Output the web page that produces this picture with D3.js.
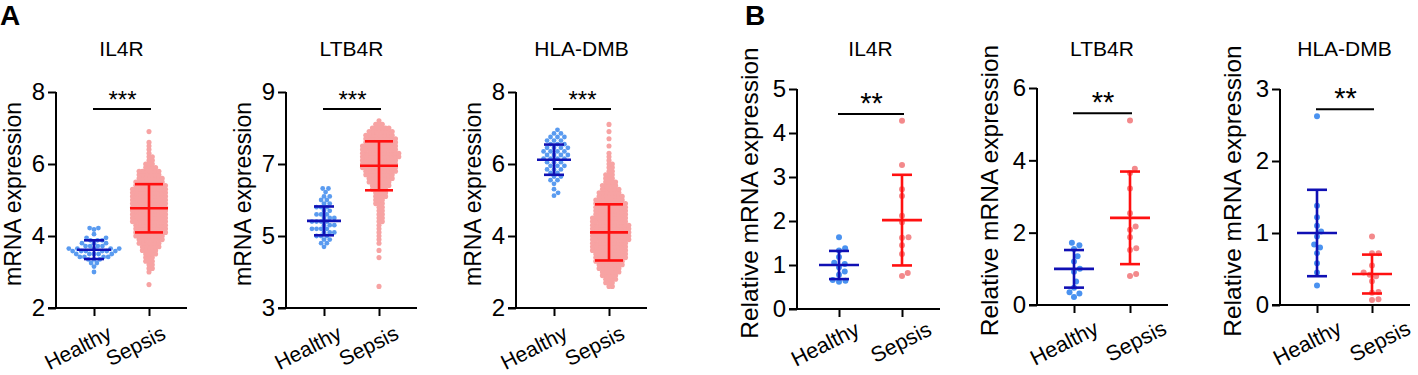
<!DOCTYPE html>
<html><head><meta charset="utf-8">
<script src="https://cdn.jsdelivr.net/npm/d3@7"></script>
<style>
body{margin:0;background:#fff}
text{font-family:"Liberation Sans",Arial,sans-serif;fill:#000}
</style>
</head><body>
<svg id="chart" width="1418" height="375"></svg>
<script>
// ---------------- DATA ----------------
const groups = ["Healthy", "Sepsis"];
const genes = ["IL4R", "LTB4R", "HLA-DMB"];
const panelLetters = ["A", "B"];
const yLabelA = "mRNA expression";
const yLabelB = "Relative mRNA expression";

// Panel A y-axis domains and ticks
const aDomains = [[2, 8], [3, 9], [2, 8]];
const aTicks = [[2, 4, 6, 8], [3, 5, 7, 9], [2, 4, 6, 8]];
// Panel B y-axis domains and ticks
const bDomains = [[0, 5], [0, 6], [0, 3]];
const bTicks = [[0, 1, 2, 3, 4, 5], [0, 2, 4, 6], [0, 1, 2, 3]];

// Panel A swarm rows: expression level and number of dots at that level
const aIL4RHealthyVals   = [4.22,4.18,4.05,3.95,3.88,3.80,3.72,3.65,3.58,3.50,3.42,3.35,3.25,3.15,3.00];
const aIL4RHealthyCounts = [2,1,1,2,3,3,4,5,6,5,4,3,2,1,1];
const aIL4RSepsisVals    = [2.65,3.0,3.1,3.2,3.3,3.4,3.5,3.6,3.7,3.8,3.9,4.0,4.1,4.2,4.3,4.4,4.5,4.6,4.7,4.8,4.9,5.0,5.1,5.2,5.3,5.4,5.5,5.6,5.7,5.8,5.9,6.0,6.1,6.2,6.3,6.4,6.5,6.6,6.9];
const aIL4RSepsisCounts  = [1,1,2,2,3,3,4,5,6,7,8,9,10,10,10,11,11,11,11,11,11,11,11,11,11,10,9,8,7,7,4,3,2,2,1,1,1,1,1];

const aLTB4RHealthyVals   = [6.32,6.22,6.10,6.00,5.90,5.80,5.70,5.60,5.50,5.40,5.30,5.20,5.10,5.00,4.90,4.80,4.70];
const aLTB4RHealthyCounts = [2,1,2,2,2,3,2,3,3,4,3,4,3,3,2,2,1];
const aLTB4RSepsisVals    = [3.6,4.4,4.6,4.8,4.9,5.0,5.1,5.2,5.3,5.4,5.5,5.6,5.7,5.8,5.9,6.0,6.1,6.2,6.3,6.4,6.5,6.6,6.7,6.8,6.9,7.0,7.1,7.2,7.3,7.4,7.5,7.6,7.7,7.8,7.9,8.0,8.1,8.2];
const aLTB4RSepsisCounts  = [1,1,1,1,1,1,1,1,1,2,2,2,2,2,3,3,4,4,5,6,7,8,9,10,11,11,11,12,12,11,11,10,10,9,8,6,3,1];

const aHLAHealthyVals   = [6.95,6.85,6.75,6.65,6.55,6.45,6.35,6.25,6.15,6.05,5.95,5.85,5.75,5.65,5.55,5.45,5.30,5.20,5.12];
const aHLAHealthyCounts = [1,2,3,3,3,4,4,4,4,3,3,3,2,2,2,1,1,1,1];
const aHLASepsisVals    = [2.6,2.7,2.8,2.9,3.0,3.1,3.2,3.3,3.4,3.5,3.6,3.7,3.8,3.9,4.0,4.1,4.2,4.3,4.4,4.5,4.6,4.7,4.8,4.9,5.0,5.1,5.2,5.3,5.4,5.5,5.6,5.7,5.8,5.9,6.0,6.1,6.2,6.3,6.5,6.7,6.9,7.1];
const aHLASepsisCounts  = [2,3,4,5,6,7,8,9,10,10,11,11,11,12,12,12,12,12,11,11,10,10,10,10,9,8,7,6,5,4,3,3,2,2,2,1,1,1,1,1,1,1];

// Panel A mean and SD
const aMeans = [[3.62, 4.77], [5.42, 6.95], [6.12, 4.10]];
const aSDs   = [[0.26, 0.67], [0.40, 0.68], [0.42, 0.78]];
const aSigLevels = [7.53, 8.53, 7.53];
const aStars = "***";

// Panel B individual samples
const bIL4RHealthy  = [1.63,1.38,1.33,1.18,1.05,1.02,0.95,0.85,0.78,0.66,0.64,0.62];
const bIL4RSepsis   = [4.28,3.27,2.72,2.57,2.12,1.97,1.63,1.62,1.45,1.25,0.82,0.75];
const bLTB4RHealthy = [1.72,1.65,1.55,1.35,1.20,1.00,0.92,0.65,0.48,0.35,0.32,0.22];
const bLTB4RSepsis  = [5.10,3.77,3.65,3.22,2.54,2.17,2.08,1.87,1.57,1.52,0.86,0.80];
const bHLAHealthy   = [2.62,1.38,1.22,1.10,1.02,0.95,0.84,0.80,0.72,0.58,0.45,0.27];
const bHLASepsis    = [0.95,0.72,0.72,0.55,0.45,0.42,0.40,0.33,0.18,0.17,0.08,0.07];

const bMeans = [[1.00, 2.02], [1.00, 2.41], [1.00, 0.43]];
const bSDs   = [[0.32, 1.03], [0.52, 1.28], [0.60, 0.27]];
const bSigLevels = [4.43, 5.30, 2.72];
const bStars = "**";

// ---------------- LAYOUT / STYLE ----------------
const COLORS = {
  aHealthyDot: "#5a9bf0", aSepsisDot: "#f7a3a3",
  bHealthyDot: "#4a92f0", bSepsisDot: "#f3898b",
  healthyBar: "#1010b4", sepsisBar: "#ff1010"
};
const FONT = "'Liberation Sans', Arial, sans-serif";
const LABEL_ANGLE = -27;

const layoutA = genes.map((g, i) => ({
  axisX: [56, 286, 516][i], top: 92, bottom: 308,
  hx: 38, sx: 93, xEnd: 131,
  meanW: [34, 38], capW: [20, 28], r: [2.4, 2.55], minDist: [4.6, 3.3],
  yLabelDx: -35, labelDx: [[19, 18], [19, 21], [15, 17]][i], labelDy: 30, titleY: 56,
  tickFont: 24, labelFont: 21, yLabelFont: 23, starFont: 24, starDy: 1
}));
layoutA[2].minDist = [5.0, 3.3];
const layoutB = genes.map((g, i) => ({
  axisX: [797, 1037, 1280][i], top: [89, 88, 89][i], bottom: [309, 305, 305][i],
  hx: [42, 37, 37][i], sx: [105, 93, 92][i], xEnd: [143, 131, 130][i],
  meanW: [40, 40], capW: [20, 20], r: [3, 3], minDist: [6.5, 6.5],
  yLabelDx: -39, labelDx: [[22, 31], [26, 38], [26, 40]][i], labelDy: [25, 28, 28][i], titleY: 56,
  tickFont: 24, labelFont: 21.5, yLabelFont: 24.5, starFont: 29, starDy: 1
}));

const svg = d3.select("#chart");

function expandRows(vals, counts) {
  const out = [];
  vals.forEach((v, i) => { for (let k = 0; k < counts[i]; k++) out.push(v); });
  return out;
}

// deterministic beeswarm offsets (pixels)
function swarm(ys, minDist) {
  const idx = ys.map((y, i) => i).sort((a, b) => ys[b] - ys[a] || a - b);
  const placed = [], out = new Array(ys.length);
  const md2 = minDist * minDist;
  for (const i of idx) {
    const y = ys[i];
    const near = placed.filter(p => Math.abs(p.y - y) < minDist);
    const cands = [0];
    near.forEach(p => {
      const dx = Math.sqrt(md2 - (p.y - y) ** 2);
      cands.push(p.x + dx, p.x - dx);
    });
    cands.sort((a, b) => Math.abs(a) - Math.abs(b) || b - a);
    let best = 0;
    for (const c of cands) {
      if (near.every(p => (p.x - c) ** 2 + (p.y - y) ** 2 >= md2 - 1e-6)) { best = c; break; }
    }
    placed.push({ x: best, y });
    out[i] = best;
  }
  return out;
}

function drawPlot(L, domain, ticks, title, yLabel, groupData, means, sds, sigLevel, stars, dotColors) {
  const g = svg.append("g");
  const y = d3.scaleLinear().domain(domain).range([L.bottom, L.top]);
  const x = d3.scaleOrdinal().domain(groups).range([L.axisX + L.hx, L.axisX + L.sx]);

  // dots
  groupData.forEach((vals, gi) => {
    const ys = vals.map(v => y(v));
    const offs = swarm(ys, L.minDist[gi]);
    g.append("g").selectAll("circle").data(vals).join("circle")
      .attr("cx", (d, i) => x(groups[gi]) + offs[i])
      .attr("cy", d => y(d))
      .attr("r", L.r[gi])
      .attr("fill", dotColors[gi]);
  });

  // error bars
  groups.forEach((grp, gi) => {
    const cx = x(grp), m = means[gi], s = sds[gi];
    const col = gi === 0 ? COLORS.healthyBar : COLORS.sepsisBar;
    const eb = g.append("g").attr("stroke", col).attr("stroke-width", 2.6).attr("fill", "none");
    eb.append("line").attr("x1", cx).attr("x2", cx).attr("y1", y(m - s)).attr("y2", y(m + s));
    eb.append("line").attr("x1", cx - L.capW[gi] / 2).attr("x2", cx + L.capW[gi] / 2).attr("y1", y(m + s)).attr("y2", y(m + s));
    eb.append("line").attr("x1", cx - L.capW[gi] / 2).attr("x2", cx + L.capW[gi] / 2).attr("y1", y(m - s)).attr("y2", y(m - s));
    eb.append("line").attr("x1", cx - L.meanW[gi] / 2).attr("x2", cx + L.meanW[gi] / 2).attr("y1", y(m)).attr("y2", y(m));
  });

  // y axis
  const ya = g.append("g").attr("transform", `translate(${L.axisX},0)`)
    .call(d3.axisLeft(y).tickValues(ticks).tickSize(8).tickSizeOuter(0).tickPadding(3).tickFormat(d3.format("d")));
  ya.select(".domain").attr("stroke", "#000").attr("stroke-width", 2).attr("d", `M0,${L.top}V${L.bottom + 1}`);
  ya.selectAll(".tick line").attr("stroke", "#000").attr("stroke-width", 2);
  ya.selectAll(".tick text").attr("font-size", L.tickFont).attr("font-family", FONT).attr("fill", "#000");

  // x axis
  const xa = g.append("g").attr("transform", `translate(0,${L.bottom})`)
    .call(d3.axisBottom(x).tickSize(8).tickSizeOuter(0).tickFormat(""));
  xa.select(".domain").remove();
  xa.selectAll(".tick line").attr("stroke", "#000").attr("stroke-width", 2);
  g.append("line").attr("x1", L.axisX - 8).attr("x2", L.axisX + L.xEnd)
    .attr("y1", L.bottom).attr("y2", L.bottom).attr("stroke", "#000").attr("stroke-width", 2);
  groups.forEach((grp, gi) => {
    g.append("text").attr("text-anchor", "end")
      .attr("transform", `translate(${x(grp) + L.labelDx[gi]},${L.bottom + L.labelDy}) rotate(${LABEL_ANGLE})`)
      .attr("font-size", L.labelFont).text(grp);
  });

  // y label
  g.append("text").attr("text-anchor", "middle")
    .attr("transform", `translate(${L.axisX + L.yLabelDx},${(L.top + L.bottom) / 2 - 6}) rotate(-90)`)
    .attr("font-size", L.yLabelFont).text(yLabel);

  // title
  g.append("text").attr("text-anchor", "middle")
    .attr("x", (x(groups[0]) + x(groups[1])) / 2).attr("y", L.titleY)
    .attr("font-size", 21).text(title);

  // significance
  const sy = y(sigLevel);
  g.append("line").attr("x1", x(groups[0]) - 1).attr("x2", x(groups[1]) + 2)
    .attr("y1", sy).attr("y2", sy).attr("stroke", "#000").attr("stroke-width", 2);
  g.append("text").attr("text-anchor", "middle")
    .attr("x", (x(groups[0]) + x(groups[1])) / 2 + 1).attr("y", sy - L.starDy)
    .attr("font-size", L.starFont).text(stars);
}

const aGroupData = [
  [expandRows(aIL4RHealthyVals, aIL4RHealthyCounts), expandRows(aIL4RSepsisVals, aIL4RSepsisCounts)],
  [expandRows(aLTB4RHealthyVals, aLTB4RHealthyCounts), expandRows(aLTB4RSepsisVals, aLTB4RSepsisCounts)],
  [expandRows(aHLAHealthyVals, aHLAHealthyCounts), expandRows(aHLASepsisVals, aHLASepsisCounts)]
];
const bGroupData = [
  [bIL4RHealthy, bIL4RSepsis], [bLTB4RHealthy, bLTB4RSepsis], [bHLAHealthy, bHLASepsis]
];

genes.forEach((gene, i) => {
  drawPlot(layoutA[i], aDomains[i], aTicks[i], gene, yLabelA, aGroupData[i], aMeans[i], aSDs[i],
    aSigLevels[i], aStars, [COLORS.aHealthyDot, COLORS.aSepsisDot]);
  drawPlot(layoutB[i], bDomains[i], bTicks[i], gene, yLabelB, bGroupData[i], bMeans[i], bSDs[i],
    bSigLevels[i], bStars, [COLORS.bHealthyDot, COLORS.bSepsisDot]);
});

// panel letters
svg.append("text").attr("x", 0).attr("y", 25).attr("font-size", 28).attr("font-weight", "bold").text(panelLetters[0]);
svg.append("text").attr("x", 745).attr("y", 25).attr("font-size", 28).attr("font-weight", "bold").text(panelLetters[1]);
</script>
</body></html>
